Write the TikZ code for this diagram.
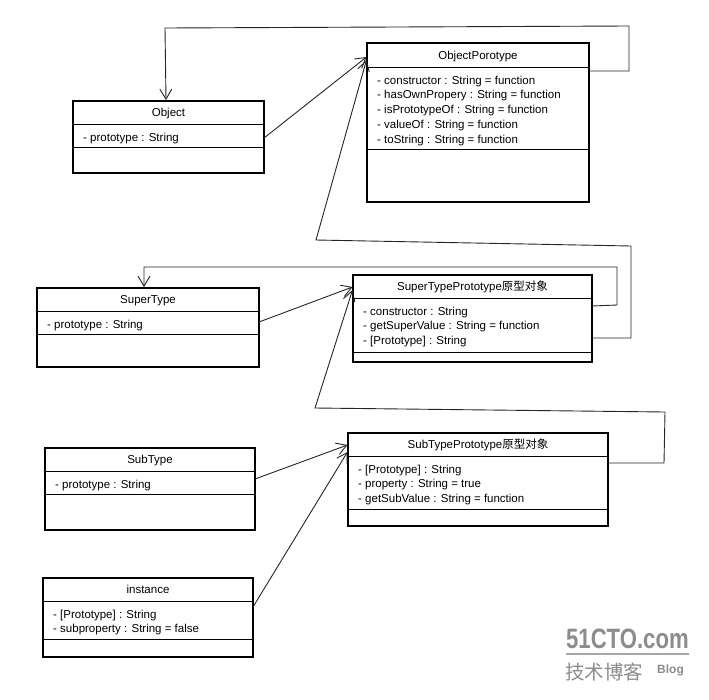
\documentclass[tikz,border=0pt]{standalone}
\usepackage{fontspec}
\setmainfont{Liberation Sans}
\newfontfamily\cjk{Noto Sans CJK SC}
\usetikzlibrary{arrows.meta,fit,calc}

\tikzset{
 umlframe/.style={draw=black, line width=2.2pt, inner sep=0pt},
 sepline/.style={line width=1pt},
 conn/.style={draw=black!85, line width=0.9pt, line join=miter, -{Straight Barb[length=10pt,width=12pt,line width=0.9pt]}},
 lbl/.style={font=\fontsize{11.5}{14}\selectfont, inner sep=0pt},
 wm/.style={text=black!45, inner sep=0pt},
}

% name, x1, y1, x2, y2, y header line, y attr line, title, attrs
\newcommand\UmlBox[9]{%
 \coordinate (#1-nw) at (#2,#3);
 \coordinate (#1-se) at (#4,#5);
 \draw[sepline] (#2,#6) -- (#4,#6);
 \draw[sepline] (#2,#7) -- (#4,#7);
 \node[umlframe, fit=(#1-nw)(#1-se)] (#1) {};
 \node[lbl, anchor=base] (#1-title) at ({(#2+#4)/2}, {(#3+#6)/2+4}) {#8};
 \foreach \t [count=\i] in {#9} {\node[lbl, anchor=base west] (#1-a\i) at ({#2+10}, {#6+17+(\i-1)*14.8}) {\t};}
}

\begin{document}
\begin{tikzpicture}[x=1pt, y=-1pt]
\useasboundingbox (0,0) rectangle (709,699);
\fill[white] (0,0) rectangle (709,699);

\UmlBox{obj}{73}{101}{264}{173}{124}{147}{Object}{{- prototype : String}}
\UmlBox{objp}{367}{43}{589}{202}{67}{149}{ObjectPorotype}{{- constructor : String = function},{- hasOwnPropery : String = function},{- isPrototypeOf : String = function},{- valueOf : String = function},{- toString : String = function}}
\UmlBox{st}{37}{288}{259}{367}{311}{334}{SuperType}{{- prototype : String}}
\UmlBox{stp}{353}{275}{592}{362}{298}{352}{SuperTypePrototype{\cjk 原型对象}}{{- constructor : String},{- getSuperValue : String = function},{- [Prototype] : String}}
\UmlBox{sb}{45}{448}{255}{530}{471}{494}{SubType}{{- prototype : String}}
\UmlBox{sbp}{348}{433}{608}{526}{456}{509}{SubTypePrototype{\cjk 原型对象}}{{- [Prototype] : String},{- property : String = true},{- getSubValue : String = function}}
\UmlBox{inst}{43}{578}{253}{657}{601}{639}{instance}{{- [Prototype] : String},{- subproperty : String = false}}

% attachment points on the boxes
\coordinate (obj-e) at (264,138);
\coordinate (obj-n) at (166,100);
\coordinate (objp-w1) at (366.5,57);
\coordinate (objp-w2) at (366.5,60);
\coordinate (objp-e) at (589,71);
\coordinate (st-e) at (259,322);
\coordinate (st-n) at (144,287);
\coordinate (stp-w1) at (352.5,287);
\coordinate (stp-w2) at (352.5,290);
\coordinate (stp-e1) at (592,306);
\coordinate (stp-e2) at (592,338);
\coordinate (sb-e) at (255,479);
\coordinate (sbp-w1) at (347.5,445);
\coordinate (sbp-w2) at (347.5,452);
\coordinate (sbp-e) at (608,463);
\coordinate (inst-e) at (253,607);

% bend points
\coordinate (b1) at (629,71);
\coordinate (b2) at (629,26);
\coordinate (b3) at (165,28);
\coordinate (c1) at (631,338);
\coordinate (c2) at (631,246);
\coordinate (c3) at (316,240);
\coordinate (d1) at (617,305);
\coordinate (d2) at (617,267);
\coordinate (d3) at (144,267);
\coordinate (e1) at (664,463);
\coordinate (e2) at (665,412);
\coordinate (e3) at (315,408);

\draw[conn] (obj-e) -- (objp-w1);
\draw[conn] (objp-e) -- (b1) -- (b2) -- (b3) -- (obj-n);
\draw[conn] (stp-e2) -- (c1) -- (c2) -- (c3) -- (objp-w2);
\draw[conn] (st-e) -- (stp-w1);
\draw[conn] (stp-e1) -- (d1) -- (d2) -- (d3) -- (st-n);
\draw[conn] (sbp-e) -- (e1) -- (e2) -- (e3) -- (stp-w2);
\draw[conn] (sb-e) -- (sbp-w1);
\draw[conn] (inst-e) -- (sbp-w2);

% watermark
\node[wm, anchor=base west, font=\bfseries\fontsize{28}{28}\selectfont, xscale=0.79] (wm1) at (566,648) {51CTO.com};
\draw[black!35, line width=2pt] (566,653.5) -- (689,653.5);
\node[wm, anchor=base west, font=\cjk\fontsize{19.5}{20}\selectfont] (wm2) at (565,679) {技术博客};
\node[wm, anchor=base west, font=\bfseries\fontsize{12}{12}\selectfont] (wm3) at (657,673) {Blog};
\end{tikzpicture}
\end{document}
